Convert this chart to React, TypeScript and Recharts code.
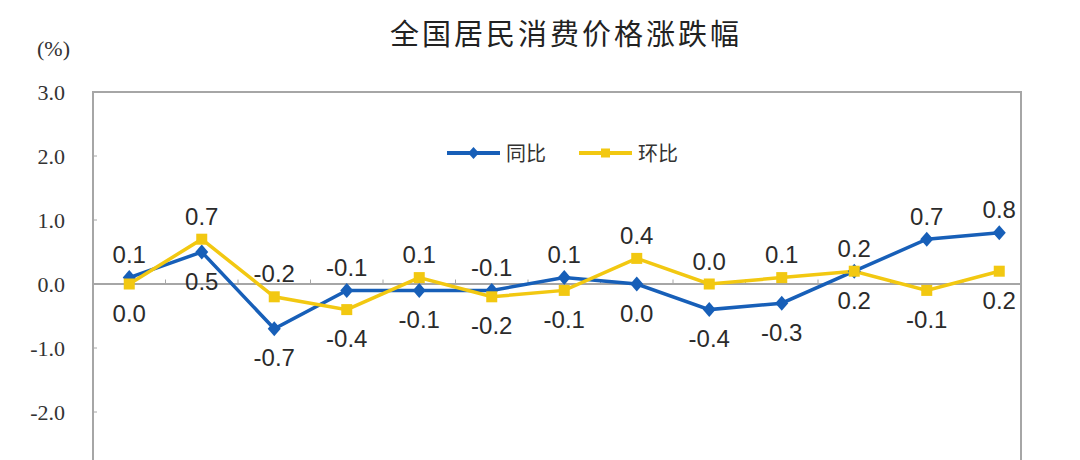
import { LineChart, Line, XAxis, YAxis, ReferenceLine, ReferenceArea, LabelList } from 'recharts';

const months = [
  '2023年2月', '3月', '4月', '5月', '6月', '7月', '8月',
  '9月', '10月', '11月', '12月', '2024年1月', '2月',
];
const yoy = [0.1, 0.5, -0.7, -0.1, -0.1, -0.1, 0.1, 0.0, -0.4, -0.3, 0.2, 0.7, 0.8]; // 同比
const mom = [0.0, 0.7, -0.2, -0.4, 0.1, -0.2, -0.1, 0.4, 0.0, 0.1, 0.2, -0.1, 0.2]; // 环比
const yTicks = [-3, -2, -1, 0, 1, 2, 3];

const BLUE = '#175fb8';
const YELLOW = '#f2c811';
const FRAME = '#a6a6a6';
const X_MAX = months.length - 0.7; // plot ends a bit before the last band edge

const data = months.map((m, i) => ({ idx: i, month: m, yoy: yoy[i], mom: mom[i] }));
const boundaries = months.slice(1).map((_, i) => i + 0.5);

// label goes above for the higher of the two series, below for the lower
const makeLabel = (own: number[], other: number[], winsTie: boolean) => (props: any) => {
  const { x, y, index } = props;
  const a = own[index];
  const b = other[index];
  const above = a > b || (a === b && winsTie);
  return (
    <text
      key={`l-${index}`}
      x={x}
      y={above ? y - 23 : y + 29}
      textAnchor="middle"
      dominantBaseline="central"
      fontFamily="'Liberation Sans', Arial, sans-serif"
      fontSize={24}
      fill="#2b2b2b"
    >
      {a.toFixed(1)}
    </text>
  );
};

const diamond = (p: any) => (
  <path
    key={`d-${p.index}`}
    d={`M${p.cx},${p.cy - 7.5}L${p.cx + 6.5},${p.cy}L${p.cx},${p.cy + 7.5}L${p.cx - 6.5},${p.cy}Z`}
    fill={BLUE}
  />
);

const square = (p: any) => (
  <rect key={`s-${p.index}`} x={p.cx - 5.5} y={p.cy - 5.5} width={11} height={11} fill={YELLOW} />
);

const YTick = (p: any) => {
  const { x, y, payload } = p;
  if (payload.value <= -3) return <g />; // cut off in the source picture
  return (
    <g>
      <line x1={x} y1={y} x2={x + 4} y2={y} stroke={FRAME} strokeWidth={1} />
      <text
        x={x - 28}
        y={y}
        textAnchor="end"
        dominantBaseline="central"
        fontFamily="'Liberation Serif', 'Times New Roman', serif"
        fontSize={22}
        fill="#333"
      >
        {Number(payload.value).toFixed(1)}
      </text>
    </g>
  );
};

export default function App() {
  return (
    <div style={{ position: 'fixed', left: 0, top: 0, width: 1080, height: 460, overflow: 'hidden', background: '#fff' }}>
      <div
        style={{
          position: 'absolute', left: 0, width: 1132, top: 11, textAlign: 'center',
          fontFamily: "'Noto Sans CJK SC', sans-serif", fontSize: 29, letterSpacing: 3, color: '#222',
        }}
      >
        全国居民消费价格涨跌幅
      </div>
      <div
        style={{
          position: 'absolute', left: 37, top: 36,
          fontFamily: "'Liberation Serif', serif", fontSize: 22, color: '#333',
        }}
      >
        (%)
      </div>
      <div
        style={{
          position: 'absolute', left: 447, top: 138, display: 'flex', alignItems: 'center',
          fontFamily: "'Noto Sans CJK SC', sans-serif", fontSize: 20, color: '#333',
        }}
      >
        <svg width={53} height={16}>
          <line x1={0} y1={8} x2={53} y2={8} stroke={BLUE} strokeWidth={4} />
          <path d="M26.5,2L32,8L26.5,14L21,8Z" fill={BLUE} />
        </svg>
        <span style={{ marginLeft: 6 }}>同比</span>
        <svg width={53} height={16} style={{ marginLeft: 33 }}>
          <line x1={0} y1={8} x2={53} y2={8} stroke={YELLOW} strokeWidth={4} />
          <rect x={22} y={3.5} width={9} height={9} fill={YELLOW} />
        </svg>
        <span style={{ marginLeft: 6 }}>环比</span>
      </div>
      <div style={{ position: 'absolute', left: 0, top: 0 }}>
        <LineChart width={1080} height={500} data={data} margin={{ top: 92, right: 59, bottom: 24, left: 0 }}>
          <XAxis dataKey="idx" type="number" domain={[-0.5, X_MAX]} allowDataOverflow hide />
          <YAxis
            type="number"
            domain={[-3, 3]}
            ticks={yTicks}
            width={93}
            axisLine={{ stroke: FRAME, strokeWidth: 2 }}
            tickLine={false}
            tickSize={0}
            tickMargin={0}
            tick={<YTick />}
            interval={0}
          />
          <ReferenceArea
            x1={-0.5}
            x2={X_MAX}
            y1={-3}
            y2={3}
            fill="none"
            fillOpacity={0}
            stroke={FRAME}
            strokeWidth={2}
          />
          <ReferenceLine y={0} stroke={FRAME} strokeWidth={2} />
          {boundaries.map((b) => (
            <ReferenceLine
              key={b}
              segment={[{ x: b, y: 0 }, { x: b, y: 0.07 }]}
              stroke={FRAME}
              strokeWidth={1}
            />
          ))}
          <Line
            dataKey="yoy"
            stroke={BLUE}
            strokeWidth={3.5}
            dot={diamond}
            activeDot={false}
            isAnimationActive={false}
          >
            <LabelList dataKey="yoy" content={makeLabel(yoy, mom, false)} />
          </Line>
          <Line
            dataKey="mom"
            stroke={YELLOW}
            strokeWidth={3.5}
            dot={square}
            activeDot={false}
            isAnimationActive={false}
          >
            <LabelList dataKey="mom" content={makeLabel(mom, yoy, true)} />
          </Line>
        </LineChart>
      </div>
    </div>
  );
}
